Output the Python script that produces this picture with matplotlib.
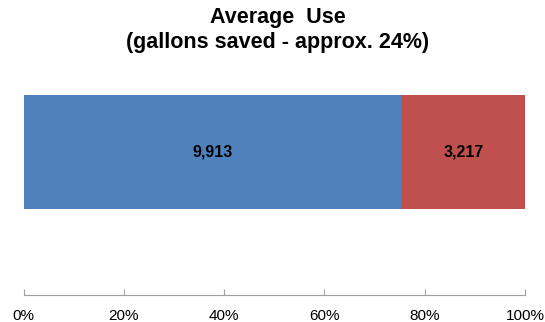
import matplotlib
matplotlib.use("Agg")
import matplotlib.pyplot as plt

plt.rcParams['font.family'] = ['Liberation Sans', 'DejaVu Sans']

segments = ["Average use", "Gallons saved"]
values = [9913, 3217]
colors = ["#4F81BD", "#C0504D"]
tick_values = [0, 20, 40, 60, 80, 100]
tick_labels = ["0%", "20%", "40%", "60%", "80%", "100%"]

total = sum(values)
shares = [v / total * 100 for v in values]

fig = plt.figure(figsize=(5.45, 3.22), dpi=100)
ax = fig.add_axes([23.5 / 545, 27 / 322, (525 - 23.5) / 545, (295 - 95) / 322])

left = 0
for name, v, s, c in zip(segments, values, shares, colors):
    ax.barh(0, s, left=left, height=1.0, color=c, label=name)
    ax.text(left + s / 2, 0, f"{v:,}", ha="center", va="center",
            fontsize=11.5, fontweight="bold", color="black")
    left += s

ax.set_xlim(0, 100)
ax.set_ylim(-1.254, 0.5)
ax.set_xticks(tick_values)
ax.set_xticklabels(tick_labels, fontsize=11)
ax.set_yticks([])
for side in ["top", "right", "left"]:
    ax.spines[side].set_visible(False)
ax.spines["bottom"].set_color("#A0A0A0")
ax.tick_params(axis="x", direction="in", length=4, color="#A0A0A0", pad=10)

fig.text(278 / 545, 1 - 23 / 322, "Average  Use", ha="center", va="baseline",
         fontsize=15.5, fontweight="bold")
fig.text(278 / 545, 1 - 48 / 322, "(gallons saved - approx. 24%)", ha="center",
         va="baseline", fontsize=15.5, fontweight="bold")

fig.savefig("out.png", dpi=100)
